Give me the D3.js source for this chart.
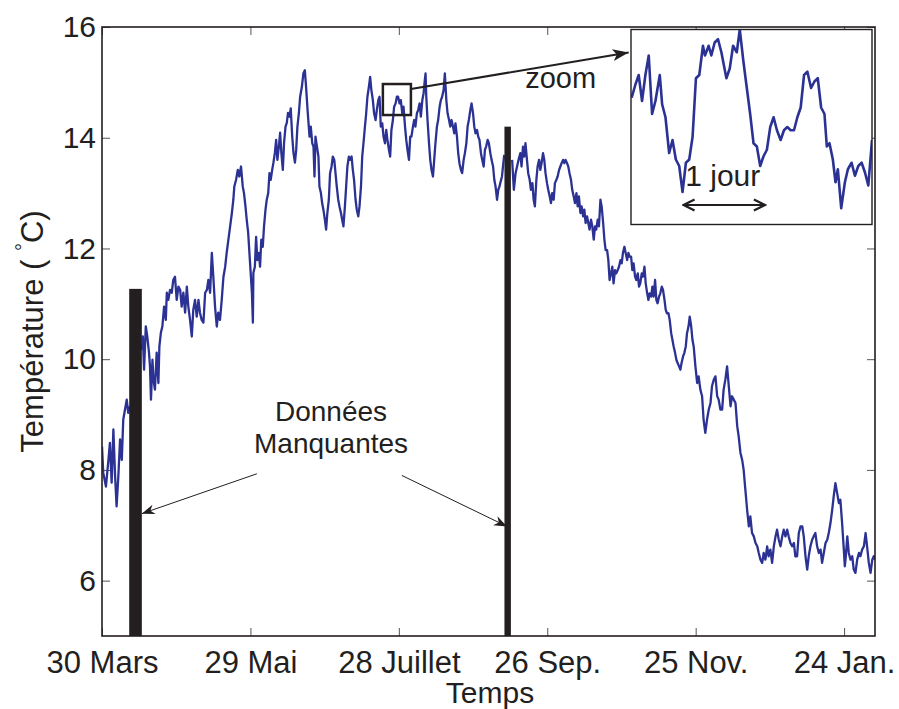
<!DOCTYPE html>
<html>
<head>
<meta charset="utf-8">
<script src="https://cdn.jsdelivr.net/npm/d3@7"></script>
<style>
  body { margin: 0; background: #fff; }
  svg text { font-family: "Liberation Sans", Arial, Helvetica, sans-serif; fill: #231f20; }
</style>
</head>
<body>
<script>
// ---- données (jours depuis le 30 mars, température en °C) ----
// null = données manquantes
const jours = [
  0, 0.5, 1.6, 2.6, 3.2, 3.9, 4.6, 5.3, 5.9, 6.6, 7.3, 8.0, 8.6, 9.3, 10.0, 10.6, 11.2,
  13.5,
  16.2, 16.5, 17.0, 17.7, 18.3, 19.0, 19.4, 19.8, 20.4, 20.8, 21.4, 22.1, 22.8, 23.2, 23.8, 24.4,
  25.1, 25.8, 26.2, 26.8, 27.5, 28.2, 28.8, 29.5, 30.2, 30.9, 31.6, 32.2, 32.9, 33.6, 34.3, 34.9,
  35.6, 36.3, 36.9, 37.6, 38.3, 39.0, 39.6, 40.3, 41.0, 41.7, 42.4, 43.0, 43.7, 44.4, 45.0, 45.7,
  46.4, 47.0, 47.7, 48.4, 49.1, 49.8, 50.4, 51.1, 51.8, 52.5, 53.1, 53.5, 54.2, 54.9, 55.5, 56.2,
  56.9, 57.4, 58.0, 58.5, 59.1, 59.6, 60.2, 60.6, 61.0, 61.2, 61.8, 62.3, 62.8, 63.4, 63.9, 64.4,
  65.0, 65.5, 66.1, 66.6, 67.2, 67.7, 68.2, 68.8, 69.3, 69.9, 70.4, 70.9, 71.5, 72.0, 72.5, 73.1,
  73.6, 74.2, 74.7, 75.2, 75.8, 76.3, 76.9, 77.4, 78.0, 78.5, 79.0, 79.6, 80.1, 80.8, 81.4, 82.0,
  82.5, 83.1, 83.5, 83.9, 84.4, 85.0, 85.5, 85.9, 86.3, 86.9, 87.5, 87.9, 88.5, 89.0, 89.5, 90.1,
  90.6, 91.1, 91.7, 92.2, 92.8, 93.3, 93.9, 94.4, 94.9, 95.5, 96.0, 96.6, 97.1, 97.6, 98.2, 98.7,
  99.2, 99.8, 100.3, 100.9, 101.4, 101.9, 102.5, 103.0, 103.6, 104.1, 104.7, 105.2, 105.7, 106.3,
  106.8, 107.3, 107.9, 108.4, 108.9, 109.5, 110.0, 110.6, 111.1, 111.7, 112.2, 112.7, 113.3, 113.8,
  114.4, 114.9, 115.4, 116.0, 116.5, 117.0, 117.6, 118.1, 118.7, 119.2, 119.7, 120.3, 120.8, 121.4,
  121.9, 122.5, 123.0, 123.5, 124.1, 124.6, 125.1, 125.7, 126.2, 126.7, 127.3, 127.8, 128.4, 128.9,
  129.5, 130.0, 130.5, 130.8, 131.1, 131.6, 132.2, 132.7, 133.2, 133.8, 134.3, 134.8, 135.4, 135.9,
  136.5, 137.0, 137.5, 138.1, 138.6, 139.2, 139.7, 140.3, 140.8, 141.3, 141.9, 142.4, 142.9, 143.5,
  144.0, 144.5, 145.1, 145.6, 146.2, 146.7, 147.3, 147.8, 148.3, 148.9, 149.4, 150.0, 150.5, 151.0,
  151.6, 152.1, 152.6, 153.2, 153.7, 154.3, 154.8, 155.3, 155.9, 156.4, 157.0, 157.5, 158.1, 158.6,
  159.1, 159.7, 160.2, 160.7, 161.0, 161.7, 162.1, 162.6,
  164.0,
  165.8, 166.5, 167.2, 167.8, 168.4, 169.1, 169.6, 170.2, 170.7, 171.2, 171.8, 172.3, 172.9, 173.4,
  174.0, 174.5, 175.0, 175.6, 176.1, 176.7, 177.2, 177.7, 178.3, 178.8, 179.3, 179.9, 180.4, 181.0,
  181.5, 182.0, 182.6, 183.1, 183.7, 184.2, 184.8, 185.3, 185.8, 186.4, 186.9, 187.4, 188.0, 188.5,
  189.0, 189.6, 190.1, 190.7, 191.2, 191.8, 192.3, 192.8, 193.4, 193.9, 194.5, 195.0, 195.5, 196.1,
  196.6, 197.1, 197.7, 198.2, 198.8, 199.3, 199.8, 200.4, 200.9, 201.5, 202.0, 202.6, 203.1, 203.6,
  204.2, 204.7, 205.2, 205.8, 206.3, 206.8, 207.4, 207.9, 208.5, 209.0, 209.6, 210.1, 210.6, 211.2,
  211.7, 212.3, 212.8, 213.3, 213.9, 214.4, 214.9, 215.5, 216.0, 216.6, 217.1, 217.6, 218.2, 218.7,
  219.3, 219.8, 220.4, 220.9, 221.4, 222.0, 222.5, 223.0, 223.6, 224.1, 224.6, 225.2, 225.7, 226.3,
  226.8, 227.4, 227.9, 228.4, 229.0, 229.5, 230.1, 230.6, 231.1, 231.7, 232.2, 232.7, 233.3, 233.8,
  234.3, 234.9, 235.4, 236.0, 236.5, 237.1, 237.6, 238.2, 238.7, 239.2, 239.9, 240.6, 241.2, 241.9,
  242.6, 243.2, 243.9, 244.6, 245.3, 246.0, 246.6, 247.3, 248.0, 248.7, 249.3, 250.0, 250.7, 251.3,
  252.0, 252.7, 253.4, 254.1, 254.7, 255.4, 256.1, 256.8, 257.4, 258.1, 258.8, 259.4, 260.1, 260.8,
  261.5, 262.1, 262.8, 263.5, 264.2, 264.9, 265.5, 266.2, 266.9, 267.5, 268.2, 268.9, 269.5, 270.2,
  270.9, 271.6, 272.3, 272.9, 273.6, 274.3, 275.0, 275.6, 276.3, 277.0, 277.6, 278.3, 279.0, 279.7,
  280.3, 281.0, 281.7, 282.4, 283.1, 283.7, 284.4, 285.1, 285.7, 286.4, 287.1, 287.7, 288.4, 289.1,
  289.8, 290.5, 291.1, 291.8, 292.5, 293.2, 293.8, 294.5, 295.2, 295.8, 296.5, 297.2, 297.9, 298.5,
  299.2, 299.9, 300.3, 300.7, 301.3, 301.9, 302.6, 303.3, 303.9, 304.6, 305.3, 306.0, 306.6, 307.3,
  308.0, 308.7, 309.3, 310.0, 310.7, 311.4, 312.0, 312.5
];
const temperature = [
  8.42, 7.95, 7.70, 8.18, 8.49, 7.77, 8.73, 7.88, 7.34, 7.88, 8.55, 8.18, 8.91, 9.09, 9.27, 9.03, 9.15,
  null,
  10.17, 10.41, 9.81, 10.59, 10.41, 10.12, 9.87, 9.27, 9.99, 9.63, 9.45, 10.12, 9.57, 10.23, 10.48, 10.59,
  10.95, 10.71, 11.20, 11.07, 11.25, 11.20, 11.43, 11.49, 11.07, 11.31, 11.25, 10.95, 11.20, 10.84, 11.31, 10.95,
  10.71, 10.41, 10.89, 11.07, 10.77, 11.07, 10.84, 10.71, 10.66, 11.20, 11.25, 11.43, 11.20, 11.92, 11.49, 10.95,
  10.59, 10.84, 10.71, 11.07, 11.49, 11.67, 11.92, 12.16, 12.40, 12.64, 12.88, 13.12, 13.24, 13.42, 13.30, 13.48,
  13.12, 13.00, 12.76, 12.52, 12.28, 11.92, 11.49, 11.20, 10.66, 11.56, 11.67, 12.21, 11.79, 11.92, 11.67, 12.16,
  12.03, 12.40, 12.70, 12.88, 13.00, 13.36, 13.24, 13.42, 13.55, 13.73, 13.96, 13.60, 13.84, 14.09, 13.73, 13.42,
  13.91, 14.20, 14.27, 14.45, 14.38, 14.53, 14.02, 13.73, 13.55, 13.78, 14.20, 14.45, 14.74, 14.92, 15.16, 15.22,
  14.92, 14.50, 14.26, 14.02, 14.20, 13.90, 13.84, 13.30, 14.02, 13.84, 13.66, 13.12, 13.00, 12.82, 12.70, 12.52,
  12.34, 12.64, 12.88, 13.36, 13.48, 13.66, 13.60, 13.36, 13.12, 12.88, 12.76, 12.64, 12.52, 12.40, 12.76, 13.12,
  13.48, 13.66, 13.60, 13.66, 13.42, 13.24, 12.88, 12.70, 12.58, 12.76, 13.12, 13.66, 13.90, 14.20,
  14.44, 14.74, 14.92, 15.10, 14.86, 14.68, 14.44, 14.32, 14.50, 14.68, 14.74, 14.20, 14.26, 14.02,
  13.90, 14.14, 13.96, 13.78, 13.66, 14.14, 14.32, 14.56, 14.62, 14.74, 14.74, 14.62, 14.68, 14.44,
  14.56, 14.20, 13.96, 13.78, 13.60, 14.02, 14.02, 14.20, 14.32, 14.20, 14.44, 14.50, 14.62, 14.38,
  14.68, 14.80, 15.04, 15.16, 14.74, 14.32, 13.90, 13.60, 13.42, 13.30, 13.60, 13.90, 14.20, 14.32,
  14.56, 14.68, 14.74, 14.86, 15.16, 14.68, 14.44, 14.32, 14.20, 14.32, 14.20, 14.08, 14.26, 14.02,
  13.72, 13.54, 13.42, 13.36, 13.60, 13.72, 13.90, 14.20, 14.32, 14.50, 14.62, 14.44, 14.20, 14.08,
  14.14, 14.02, 13.96, 13.72, 13.60, 13.48, 13.78, 13.84, 13.96, 13.90, 13.72, 13.60, 13.48, 13.24,
  13.12, 12.88, 13.06, 13.12, 13.18, 13.30, 13.48, 13.69,
  null,
  13.60, 13.06, 13.36, 13.48, 13.60, 13.72, 13.48, 13.84, 13.66, 13.90, 13.60, 13.36, 13.24, 13.06,
  13.18, 12.88, 12.76, 13.24, 13.48, 13.60, 13.42, 13.54, 13.72, 13.60, 13.36, 13.18, 13.06, 12.94,
  12.82, 13.00, 12.88, 13.18, 13.24, 13.30, 13.42, 13.48, 13.54, 13.60, 13.54, 13.60, 13.54, 13.48,
  13.36, 13.24, 13.06, 12.94, 12.82, 13.00, 12.76, 12.94, 12.64, 12.76, 12.58, 12.70, 12.46, 12.58,
  12.46, 12.34, 12.52, 12.40, 12.16, 12.40, 12.34, 12.52, 12.40, 12.88, 12.76, 12.46, 12.16, 11.97,
  11.97, 11.79, 11.43, 11.55, 11.67, 11.37, 11.61, 11.55, 11.61, 11.67, 11.79, 11.73, 11.92, 12.03,
  11.92, 11.79, 11.92, 11.85, 11.85, 11.61, 11.73, 11.49, 11.43, 11.55, 11.31, 11.37, 11.55, 11.49,
  11.67, 11.37, 11.19, 11.07, 11.19, 11.13, 11.31, 11.13, 11.43, 11.07, 11.01, 11.13, 11.19, 11.31,
  11.25, 11.07, 10.89, 10.83, 10.83, 10.71, 10.47, 10.35, 10.23, 10.11, 9.99, 9.93, 9.87, 9.81,
  9.93, 10.05, 10.11, 10.23, 10.47, 10.59, 10.77, 10.59, 10.35, 10.23, 9.87, 9.57, 9.69, 9.45,
  9.33, 8.91, 8.67, 8.91, 9.09, 9.21, 9.51, 9.63, 9.69, 9.33, 9.27, 9.09, 9.09, 9.45,
  9.63, 9.87, 9.51, 9.15, 9.33, 9.27, 9.21, 8.79, 8.60, 8.31, 8.18, 8.00, 7.64, 7.28,
  6.98, 7.16, 6.86, 6.80, 6.68, 6.62, 6.50, 6.38, 6.32, 6.50, 6.38, 6.62, 6.44, 6.56,
  6.32, 6.62, 6.80, 6.92, 6.74, 6.62, 6.80, 6.92, 6.80, 6.92, 6.80, 6.68, 6.62, 6.68,
  6.44, 6.44, 6.86, 6.98, 6.98, 6.80, 6.44, 6.20, 6.44, 6.62, 6.74, 6.80, 6.86, 6.62,
  6.50, 6.56, 6.32, 6.50, 6.68, 6.74, 6.86, 7.04, 7.28, 7.52, 7.76, 7.58, 7.40, 7.46,
  7.04, 6.56, 6.26, 6.44, 6.80, 6.50, 6.38, 6.44, 6.20, 6.14, 6.38, 6.50, 6.44, 6.56,
  6.62, 6.86, 6.62, 6.32, 6.14, 6.38, 6.44, 6.38
];

const tickJours = [0, 60, 120, 180, 240, 300];
const tickLabels = ["30 Mars", "29 Mai", "28 Juillet", "26 Sep.", "25 Nov.", "24 Jan."];
const tickTemp = [6, 8, 10, 12, 14, 16];

// périodes de données manquantes (barres noires)
const manqueDebut = [11.0, 162.7];
const manqueFin = [16.1, 165.3];
const manqueHaut = [11.27, 14.2];

// zone agrandie (heures sur ~3 jours)
const zoomHeures = [
  0.2, 1.3, 2.3, 3.3, 4.3, 5.3, 6.3, 7.3, 8.6, 9.3, 10.3, 11.4, 12.4, 13.4, 14.4, 15.4, 16.4, 17.4,
  18.4, 19.4, 20.4, 21.5, 22.1, 23.2, 24.0, 25.0, 26.0, 27.0, 28.5, 29.5, 30.5, 31.6, 32.5, 33.6,
  34.6, 35.6, 36.6, 37.6, 38.6, 39.6, 40.6, 41.6, 42.6, 43.6, 44.7, 45.7, 46.7, 47.7, 48.7, 49.7,
  50.7, 51.7, 52.7, 53.8, 54.8, 55.8, 56.8, 57.8, 58.5, 59.3, 60.3, 61.1, 61.8, 62.8, 63.9, 64.8,
  65.9, 66.9, 67.9, 68.9, 69.9, 70.9, 72.0
];
const zoomTemp = [
  14.79, 14.83, 14.86, 14.78, 14.86, 14.92, 14.74, 14.78, 14.86, 14.77, 14.73, 14.62, 14.66, 14.60,
  14.58, 14.50, 14.59, 14.60, 14.67, 14.85, 14.86, 14.95, 14.92, 14.95, 14.92, 14.96, 14.97, 14.93,
  14.85, 14.88, 14.95, 14.93, 15.00, 14.90, 14.82, 14.74, 14.65, 14.64, 14.58, 14.61, 14.63, 14.70,
  14.73, 14.69, 14.66, 14.69, 14.70, 14.69, 14.69, 14.73, 14.76, 14.86, 14.87, 14.82, 14.84, 14.85,
  14.76, 14.74, 14.64, 14.65, 14.60, 14.53, 14.57, 14.45, 14.53, 14.57, 14.59, 14.55, 14.58, 14.59,
  14.56, 14.52, 14.66
];

// ---- mise en page ----
const W = 899, H = 709;
const margin = {top: 27, right: 24, bottom: 73, left: 102};
const bleu = "#2b3293", noir = "#231f20";

const svg = d3.select("body").append("svg").attr("width", W).attr("height", H);

const x = d3.scaleLinear().domain([0, 312.5]).range([margin.left, W - margin.right]);
const y = d3.scaleLinear().domain([5, 16]).range([H - margin.bottom, margin.top]);

svg.append("defs").append("clipPath").attr("id", "clip")
  .append("rect").attr("x", x(0)).attr("y", y(16))
  .attr("width", x(312.5) - x(0)).attr("height", y(5) - y(16));

// axes (ticks vers l'intérieur, style matlab)
svg.append("g").attr("class", "axeX").attr("transform", `translate(0,${y(5)})`)
  .call(d3.axisBottom(x).tickValues(tickJours).tickFormat((d, i) => tickLabels[i])
    .tickSizeInner(-8).tickSizeOuter(0).tickPadding(15));
svg.append("g").attr("transform", `translate(${x(0)},0)`)
  .call(d3.axisLeft(y).tickValues(tickTemp).tickSizeInner(-8).tickSizeOuter(0).tickPadding(6));
svg.append("g").attr("transform", `translate(0,${y(16)})`)
  .call(d3.axisTop(x).tickValues(tickJours).tickFormat("").tickSizeInner(-8).tickSizeOuter(0));
svg.append("g").attr("transform", `translate(${x(312.5)},0)`)
  .call(d3.axisRight(y).tickValues(tickTemp).tickFormat("").tickSizeInner(-8).tickSizeOuter(0));

svg.selectAll(".domain").remove();
svg.selectAll(".tick line").attr("stroke", "#555").attr("stroke-width", 1);
svg.selectAll(".tick text").attr("font-size", 30).attr("font-family", null);
svg.selectAll(".axeX .tick text").attr("font-size", 31);

// courbe
const pts = jours.map((j, i) => ({j: j, t: temperature[i]}));
const ligne = d3.line().defined(d => d.t !== null).x(d => x(d.j)).y(d => y(d.t));
svg.append("path").datum(pts)
  .attr("clip-path", "url(#clip)")
  .attr("fill", "none").attr("stroke", bleu).attr("stroke-width", 2.3)
  .attr("stroke-linejoin", "round").attr("d", ligne);

// barres noires des données manquantes
svg.selectAll("rect.manque").data(manqueDebut).enter().append("rect")
  .attr("class", "manque")
  .attr("x", (d) => x(d))
  .attr("width", (d, i) => x(manqueFin[i]) - x(d))
  .attr("y", (d, i) => y(manqueHaut[i]))
  .attr("height", (d, i) => y(5) - y(manqueHaut[i]))
  .attr("fill", noir);

// cadre
svg.append("rect").attr("x", x(0)).attr("y", y(16))
  .attr("width", x(312.5) - x(0)).attr("height", y(5) - y(16))
  .attr("fill", "none").attr("stroke", noir).attr("stroke-width", 1.6);

// flèches
const defs = svg.select("defs");
defs.append("marker").attr("id", "fin").attr("markerUnits", "userSpaceOnUse")
  .attr("viewBox", "-14 -7 16 14").attr("refX", 0).attr("refY", 0)
  .attr("markerWidth", 16).attr("markerHeight", 14).attr("orient", "auto")
  .append("path").attr("d", "M0,0 L-13,-5 L-9,0 L-13,5 Z").attr("fill", noir);
defs.append("marker").attr("id", "finZoom").attr("markerUnits", "userSpaceOnUse")
  .attr("viewBox", "-18 -9 20 18").attr("refX", 0).attr("refY", 0)
  .attr("markerWidth", 20).attr("markerHeight", 18).attr("orient", "auto")
  .append("path").attr("d", "M0,0 L-16,-6 L-12,0 L-16,6 Z").attr("fill", noir);
defs.append("marker").attr("id", "ouvert").attr("markerUnits", "userSpaceOnUse")
  .attr("viewBox", "-14 -8 16 16").attr("refX", 0).attr("refY", 0)
  .attr("markerWidth", 16).attr("markerHeight", 16).attr("orient", "auto-start-reverse")
  .append("path").attr("d", "M-11,-5.5 L0,0 L-11,5.5").attr("fill", "none")
  .attr("stroke", noir).attr("stroke-width", 2.2);

const flechesManque = [
  {de: [62.6, 7.93], a: [16.1, 7.21]},
  {de: [121.2, 7.90], a: [163.7, 6.98]}
];
svg.selectAll("line.fm").data(flechesManque).enter().append("line")
  .attr("x1", d => x(d.de[0])).attr("y1", d => y(d.de[1]))
  .attr("x2", d => x(d.a[0])).attr("y2", d => y(d.a[1]))
  .attr("stroke", noir).attr("stroke-width", 1).attr("marker-end", "url(#fin)");

svg.append("text").attr("x", x(92.6)).attr("y", y(8.89)).attr("text-anchor", "middle")
  .attr("font-size", 28).text("Données");
svg.append("text").attr("x", x(92.6)).attr("y", y(8.31)).attr("text-anchor", "middle")
  .attr("font-size", 28).text("Manquantes");

// petit rectangle de zoom + flèche
svg.append("rect").attr("x", x(113.55)).attr("y", y(14.97))
  .attr("width", x(124.88) - x(113.55)).attr("height", y(14.41) - y(14.97))
  .attr("fill", "none").attr("stroke", noir).attr("stroke-width", 2.5);
svg.append("line").attr("x1", x(124.9)).attr("y1", y(14.88))
  .attr("x2", x(212.9)).attr("y2", y(15.54))
  .attr("stroke", noir).attr("stroke-width", 2).attr("marker-end", "url(#finZoom)");
svg.append("text").attr("x", x(171.1)).attr("y", y(14.90)).attr("font-size", 29).text("zoom");

// encart
const enc = {x0: 631, x1: 872, y0: 29.5, y1: 224.5};
const xz = d3.scaleLinear().domain([0, 72]).range([enc.x0, enc.x1]);
const yz = d3.scaleLinear().domain([14.4, 15.0]).range([enc.y1, enc.y0]);
defs.append("clipPath").attr("id", "clipEnc").append("rect")
  .attr("x", enc.x0).attr("y", enc.y0).attr("width", enc.x1 - enc.x0).attr("height", enc.y1 - enc.y0);
svg.append("rect").attr("x", enc.x0).attr("y", enc.y0)
  .attr("width", enc.x1 - enc.x0).attr("height", enc.y1 - enc.y0).attr("fill", "#fff");
const ptsZ = zoomHeures.map((h, i) => ({h: h, t: zoomTemp[i]}));
svg.append("path").datum(ptsZ).attr("clip-path", "url(#clipEnc)")
  .attr("fill", "none").attr("stroke", bleu).attr("stroke-width", 2.6).attr("stroke-linejoin", "round")
  .attr("d", d3.line().x(d => xz(d.h)).y(d => yz(d.t)));
svg.append("rect").attr("x", enc.x0).attr("y", enc.y0)
  .attr("width", enc.x1 - enc.x0).attr("height", enc.y1 - enc.y0)
  .attr("fill", "none").attr("stroke", noir).attr("stroke-width", 1.4);
svg.append("line").attr("x1", xz(15.7)).attr("x2", xz(40.0)).attr("y1", yz(14.46)).attr("y2", yz(14.46))
  .attr("stroke", noir).attr("stroke-width", 2.2)
  .attr("marker-start", "url(#ouvert)").attr("marker-end", "url(#ouvert)");
svg.append("text").attr("x", xz(16.2)).attr("y", yz(14.52)).attr("font-size", 30).text("1 jour");

// titres des axes
svg.append("text").attr("x", 490).attr("y", 703).attr("text-anchor", "middle")
  .attr("font-size", 30).text("Temps");
const ylab = svg.append("text").attr("transform", `translate(43,${(y(5) + y(16)) / 2}) rotate(-90)`)
  .attr("text-anchor", "middle").attr("font-size", 31);
ylab.append("tspan").text("Température ( ");
ylab.append("tspan").attr("font-size", 20).attr("dy", -13).text("°");
ylab.append("tspan").attr("dy", 13).text("C)");
</script>
</body>
</html>
